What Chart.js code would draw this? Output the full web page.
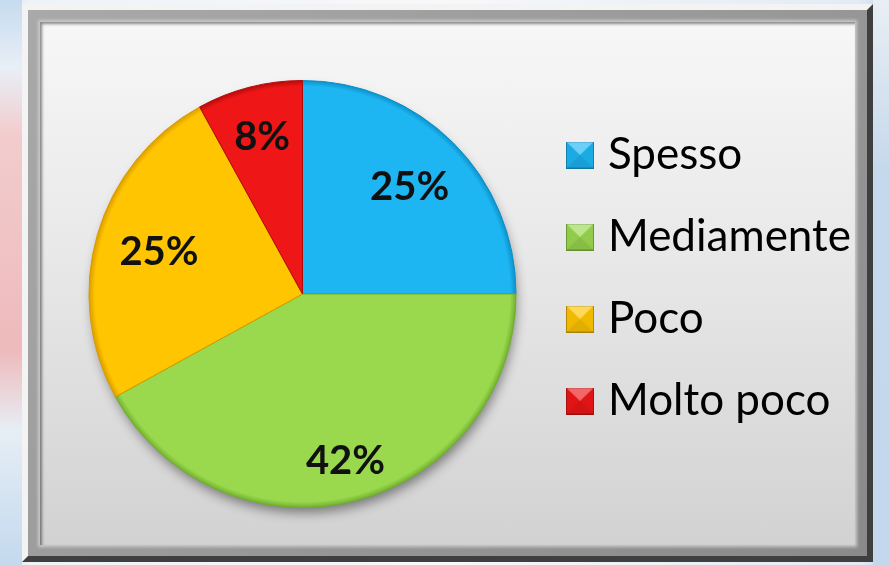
<!DOCTYPE html>
<html lang="it">
<head>
<meta charset="utf-8">
<title>Frequenza</title>
<script src="https://cdn.jsdelivr.net/npm/chart.js@4.4.1/dist/chart.umd.min.js"></script>
<style>
    html, body { margin: 0; padding: 0; width: 889px; height: 565px; overflow: hidden; }
    body {
        position: relative;
        background: linear-gradient(90deg, #d3e2f1 0px, #eef3f8 30px, #f7f8fa 50%, #e2ebf4 860px, #c3d8ec 889px);
    }
    .bg-left {
        position: absolute; left: 0; top: 0; width: 22px; height: 565px;
        background: linear-gradient(180deg, #c6dbef 0%, #e8eff6 12%, #f2cccd 24%, #eebabc 62%, #e7eef5 76%, #c3d9ee 100%);
    }
    .bg-right {
        position: absolute; right: 0; top: 0; width: 16px; height: 565px;
        background: linear-gradient(180deg, #e9eef3 0%, #c6d9ec 30%, #c3d8ec 100%);
    }
    .frame {
        position: absolute; left: 22px; top: 4px; width: 851px; height: 558px;
        box-sizing: border-box;
        border: 6px solid;
        border-color: #f3f3f3 #3f3f3f #3f3f3f #f3f3f3;
        background: linear-gradient(135deg, #a9a9a9, #8a8a8a);
    }
    .panel {
        position: absolute; left: 12px; top: 12px; right: 12px; bottom: 11px;
        background: linear-gradient(180deg, #f7f7f7 0%, #e8e8e8 45%, #d2d2d2 100%);
        box-shadow: inset 2px 2px 3px rgba(0, 0, 0, 0.45), 0 0 3px 2px #c9c9c9;
    }
    .chart-wrap { position: absolute; left: 0; top: 0; width: 889px; height: 565px; }
</style>
</head>
<body>
<div class="bg-left"></div>
<div class="bg-right"></div>
<div class="frame"><div class="panel"></div></div>
<div class="chart-wrap"><canvas id="pieChart"></canvas></div>

<script>
// Chart data
const categories = ['Spesso', 'Mediamente', 'Poco', 'Molto poco'];
const percentages = [25, 42, 25, 8];

// Slice colours (base / darker edge)
const sliceColors = ['#1db6f3', '#9ad84e', '#ffc500', '#ee1616'];
const edgeColors = ['#0b8fc6', '#6fae2c', '#d99a00', '#b30909'];

// Distance of each percentage label from the centre, as share of the radius
const labelRadius = [0.71, 0.81, 0.70, 0.76];

document.addEventListener('DOMContentLoaded', function() {
    initializePieChart();
});

// Small 3D-looking square used as legend marker
function makeLegendBox(color) {
    const c = document.createElement('canvas');
    c.width = 28;
    c.height = 27;
    const g = c.getContext('2d');
    const w = c.width, h = c.height;

    g.fillStyle = color;
    g.fillRect(0, 0, w, h);

    // top facet lighter
    g.fillStyle = 'rgba(255,255,255,0.35)';
    g.beginPath();
    g.moveTo(0, 0); g.lineTo(w, 0); g.lineTo(w / 2, h / 2); g.closePath();
    g.fill();

    // bottom facet darker
    g.fillStyle = 'rgba(0,0,0,0.12)';
    g.beginPath();
    g.moveTo(0, h); g.lineTo(w, h); g.lineTo(w / 2, h / 2); g.closePath();
    g.fill();

    // side facets slightly darker
    g.fillStyle = 'rgba(0,0,0,0.06)';
    g.beginPath();
    g.moveTo(0, 0); g.lineTo(w / 2, h / 2); g.lineTo(0, h); g.closePath();
    g.moveTo(w, 0); g.lineTo(w / 2, h / 2); g.lineTo(w, h); g.closePath();
    g.fill();

    g.strokeStyle = 'rgba(0,0,0,0.25)';
    g.lineWidth = 1;
    g.strokeRect(0.5, 0.5, w - 1, h - 1);
    return c;
}

// Radial gradient giving the slices a soft bevelled rim
function sliceFill(context) {
    const chart = context.chart;
    const area = chart.chartArea;
    const i = context.dataIndex;
    if (!area || i === undefined) return sliceColors[i] || '#ccc';
    const cx = (area.left + area.right) / 2;
    const cy = (area.top + area.bottom) / 2;
    const r = Math.min(area.right - area.left, area.bottom - area.top) / 2;
    const grad = chart.ctx.createRadialGradient(cx, cy, 0, cx, cy, r);
    grad.addColorStop(0, sliceColors[i]);
    grad.addColorStop(0.9, sliceColors[i]);
    grad.addColorStop(0.97, sliceColors[i]);
    grad.addColorStop(1, edgeColors[i]);
    return grad;
}

// Soft shadow under the pie
const pieShadow = {
    id: 'pieShadow',
    beforeDatasetsDraw(chart) {
        const arc = chart.getDatasetMeta(0).data[0];
        if (!arc) return;
        const p = arc.getProps(['x', 'y', 'outerRadius'], true);
        const ctx = chart.ctx;
        ctx.save();
        ctx.shadowColor = 'rgba(0,0,0,0.45)';
        ctx.shadowBlur = 12;
        ctx.shadowOffsetX = 2;
        ctx.shadowOffsetY = 7;
        ctx.beginPath();
        ctx.arc(p.x, p.y, p.outerRadius - 2, 0, Math.PI * 2);
        ctx.fillStyle = '#888888';
        ctx.fill();
        ctx.restore();
    }
};

// Percentage labels inside the slices
const sliceLabels = {
    id: 'sliceLabels',
    afterDatasetsDraw(chart, args, opts) {
        const ctx = chart.ctx;
        const meta = chart.getDatasetMeta(0);
        const values = chart.data.datasets[0].data;
        ctx.save();
        ctx.font = opts.font;
        ctx.fillStyle = opts.color;
        ctx.textAlign = 'center';
        ctx.textBaseline = 'middle';
        meta.data.forEach((arc, i) => {
            const p = arc.getProps(['x', 'y', 'startAngle', 'endAngle', 'outerRadius'], true);
            const mid = (p.startAngle + p.endAngle) / 2;
            const r = p.outerRadius * opts.radius[i];
            ctx.fillText(values[i] + '%', p.x + Math.cos(mid) * r, p.y + Math.sin(mid) * r);
        });
        ctx.restore();
    }
};

function initializePieChart() {
    const ctx = document.getElementById('pieChart');
    if (!ctx) return;

    const legendBoxes = sliceColors.map(makeLegendBox);

    const config = {
        type: 'pie',
        data: {
            labels: categories,
            datasets: [{
                data: percentages,
                backgroundColor: sliceFill,
                borderColor: edgeColors,
                borderWidth: 1
            }]
        },
        options: {
            responsive: true,
            maintainAspectRatio: false,
            animation: false,
            layout: {
                padding: { top: 80, bottom: 57, left: 69, right: 28 }
            },
            plugins: {
                tooltip: { enabled: false },
                legend: {
                    position: 'right',
                    align: 'start',
                    title: {
                        display: true,
                        text: '',
                        font: { size: 12.5 },
                        padding: 0
                    },
                    labels: {
                        usePointStyle: true,
                        pointStyleWidth: 12,
                        padding: 38,
                        color: '#000000',
                        font: { family: 'Lato', size: 44 },
                        generateLabels: function(chart) {
                            const items = Chart.overrides.doughnut.plugins.legend.labels.generateLabels(chart);
                            items.forEach(item => { item.pointStyle = legendBoxes[item.index]; });
                            return items;
                        }
                    }
                },
                sliceLabels: {
                    font: 'bold 40px Lato',
                    color: '#111111',
                    radius: labelRadius
                }
            }
        },
        plugins: [pieShadow, sliceLabels]
    };

    new Chart(ctx, config);
}
</script>
</body>
</html>
